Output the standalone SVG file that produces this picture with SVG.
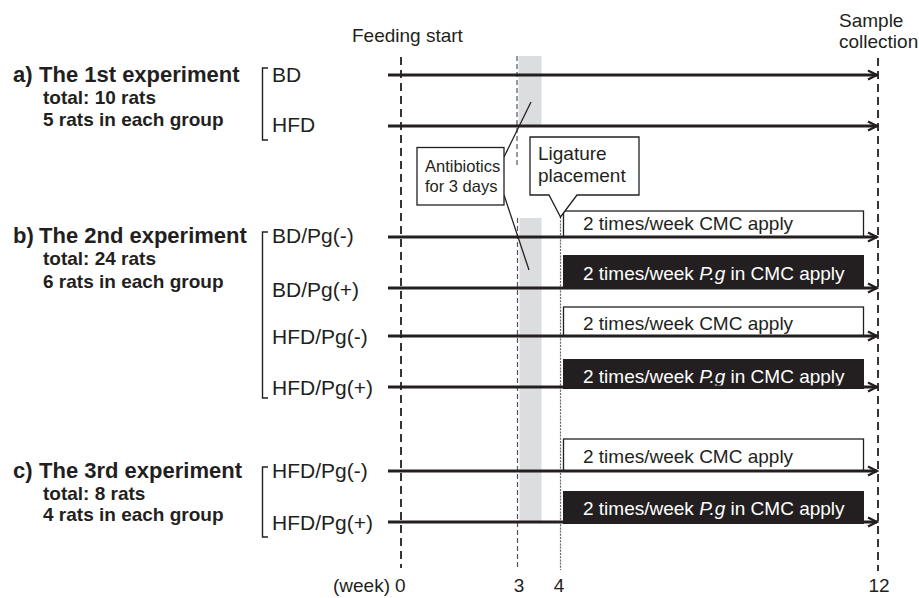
<svg xmlns="http://www.w3.org/2000/svg" width="919" height="598" viewBox="0 0 919 598">
<style>
text{font-family:"Liberation Sans",Arial,sans-serif;fill:#231f20}
.t{font-size:22px;font-weight:bold}
.s{font-size:19px;font-weight:bold}
.g{font-size:21px}
.b{font-size:19px}
.w{fill:#fff}
.br{fill:none;stroke:#231f20;stroke-width:1.4}
.ar{stroke:#231f20;stroke-width:3;marker-end:url(#ah)}
.wb{fill:#fff;stroke:#231f20;stroke-width:1.3}
.kb{fill:#231f20}
.cl{stroke:#231f20;stroke-width:1.3;fill:none}
</style>
<defs>
<marker id="ah" viewBox="0 0 12 12" refX="10" refY="6" markerWidth="12" markerHeight="12" markerUnits="userSpaceOnUse" orient="auto">
<path d="M1,1.5 L10,6 L1,10.5" fill="none" stroke="#231f20" stroke-width="2.4"/>
</marker>
</defs>
<rect width="919" height="598" fill="#fff"/>

<g id="timeline">
<rect x="518.5" y="56" width="23" height="70" fill="#dcdddf"/>
<rect x="519.5" y="218" width="22" height="304" fill="#dcdddf"/>
<line x1="401" y1="57" x2="401" y2="568" stroke="#231f20" stroke-width="1.8" stroke-dasharray="8,5"/>
<line x1="878" y1="58" x2="878" y2="571" stroke="#231f20" stroke-width="1.8" stroke-dasharray="8,5"/>
<line x1="517" y1="56" x2="517" y2="166" stroke="#555" stroke-width="1.2" stroke-dasharray="5,3"/>
<line x1="517.5" y1="218" x2="517.5" y2="567" stroke="#555" stroke-width="1.2" stroke-dasharray="5,3"/>
<line x1="560.5" y1="217" x2="560.5" y2="570" stroke="#666" stroke-width="1.2" stroke-dasharray="2,1.2"/>
</g>

<g id="labels-top">
<text class="b" x="352" y="42">Feeding start</text>
<text class="b" x="839" y="27">Sample</text>
<text class="b" x="839" y="48">collection</text>
</g>

<g id="exp-a">
<text class="t" x="13" y="82">a)</text>
<text class="t" x="39" y="82">The 1st experiment</text>
<text class="s" x="43" y="104">total: 10 rats</text>
<text class="s" x="43" y="126">5 rats in each group</text>
<path class="br" d="M268,68 H262.5 V140 H268"/>
<text class="g" x="272" y="82">BD</text>
<text class="g" x="272" y="132">HFD</text>
</g>

<g id="exp-b">
<text class="t" x="13" y="243">b)</text>
<text class="t" x="39" y="243">The 2nd experiment</text>
<text class="s" x="43" y="265">total: 24 rats</text>
<text class="s" x="43" y="288">6 rats in each group</text>
<path class="br" d="M268,232 H262.5 V398 H268"/>
<text class="g" x="272" y="243">BD/Pg(-)</text>
<text class="g" x="272" y="297">BD/Pg(+)</text>
<text class="g" x="272" y="344">HFD/Pg(-)</text>
<text class="g" x="272" y="395">HFD/Pg(+)</text>
</g>

<g id="exp-c">
<text class="t" x="13" y="478">c)</text>
<text class="t" x="39" y="478">The 3rd experiment</text>
<text class="s" x="43" y="500">total: 8 rats</text>
<text class="s" x="43" y="521">4 rats in each group</text>
<path class="br" d="M268,467 H262.5 V537 H268"/>
<text class="g" x="272" y="478">HFD/Pg(-)</text>
<text class="g" x="272" y="530">HFD/Pg(+)</text>
</g>

<g id="treatments">
<rect class="wb" x="563.5" y="211" width="300" height="26"/>
<text class="b" x="583" y="230">2 times/week CMC apply</text>
<rect class="kb" x="563" y="255" width="301" height="34"/>
<text class="b w" x="583" y="280">2 times/week <tspan font-style="italic">P.g</tspan> in CMC apply</text>
<rect class="wb" x="563.5" y="307" width="300" height="29"/>
<text class="b" x="583" y="330">2 times/week CMC apply</text>
<rect class="kb" x="563" y="359" width="301" height="30"/>
<text class="b w" x="583" y="383">2 times/week <tspan font-style="italic">P.g</tspan> in CMC apply</text>
<rect class="wb" x="563.5" y="439" width="300" height="32"/>
<text class="b" x="583" y="463">2 times/week CMC apply</text>
<rect class="kb" x="563" y="491" width="301" height="33"/>
<text class="b w" x="583" y="515">2 times/week <tspan font-style="italic">P.g</tspan> in CMC apply</text>
</g>

<g id="connectors">
<line class="ar" x1="388" y1="75" x2="877" y2="75"/>
<line class="ar" x1="388" y1="126" x2="877" y2="126"/>
<line class="ar" x1="388" y1="237" x2="877" y2="237"/>
<line class="ar" x1="388" y1="288" x2="877" y2="288"/>
<line class="ar" x1="388" y1="336" x2="877" y2="336"/>
<line class="ar" x1="388" y1="387" x2="877" y2="387"/>
<line class="ar" x1="388" y1="471" x2="877" y2="471"/>
<line class="ar" x1="388" y1="522" x2="877" y2="522"/>
<line class="cl" x1="531" y1="102" x2="504" y2="157"/>
<line class="cl" x1="504" y1="195" x2="529" y2="270"/>
</g>

<g id="antibiotics">
<rect class="wb" x="417" y="147.5" width="87" height="57.5"/>
<text x="425" y="172" font-size="16.5">Antibiotics</text>
<text x="425" y="192" font-size="16.5">for 3 days</text>
</g>

<g id="ligature">
<path class="wb" d="M549,195 H530 V137 H639 V195 H577 L560.5,217 Z"/>
<text class="b" x="538" y="160">Ligature</text>
<text class="b" x="538" y="182">placement</text>
</g>

<g id="axis">
<text class="b" x="333" y="592">(week)</text>
<text class="b" x="395" y="592">0</text>
<text class="b" x="519" y="592" text-anchor="middle">3</text>
<text class="b" x="559" y="592" text-anchor="middle">4</text>
<text class="b" x="879" y="592" text-anchor="middle">12</text>
</g>
</svg>
